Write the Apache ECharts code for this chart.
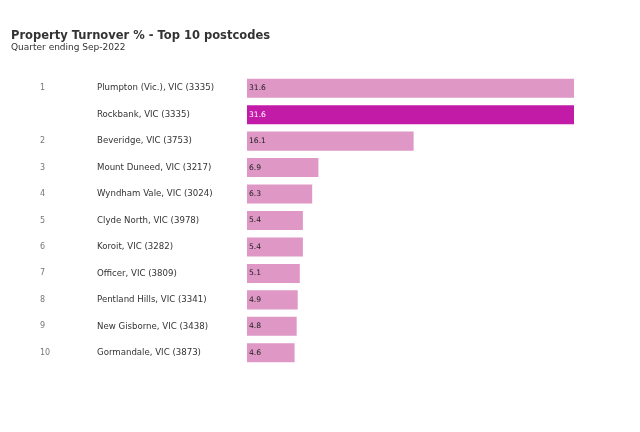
<!DOCTYPE html>
<html>
<head>
<meta charset="utf-8">
<script src="https://cdn.jsdelivr.net/npm/echarts@6/dist/echarts.min.js"></script>
<style>
  html, body { margin: 0; padding: 0; background: #fff; }
  #chart { width: 640px; height: 432px; }
</style>
</head>
<body>
<div id="chart"></div>
<script>
var ranks = ['1', '', '2', '3', '4', '5', '6', '7', '8', '9', '10'];
var suburbs = [
    'Plumpton (Vic.), VIC (3335)',
    'Rockbank, VIC (3335)',
    'Beveridge, VIC (3753)',
    'Mount Duneed, VIC (3217)',
    'Wyndham Vale, VIC (3024)',
    'Clyde North, VIC (3978)',
    'Koroit, VIC (3282)',
    'Officer, VIC (3809)',
    'Pentland Hills, VIC (3341)',
    'New Gisborne, VIC (3438)',
    'Gormandale, VIC (3873)'
];
var turnover = [31.6, 31.6, 16.1, 6.9, 6.3, 5.4, 5.4, 5.1, 4.9, 4.8, 4.6];
var highlighted = 'Rockbank, VIC (3335)';

var lightPink = '#df97c6';
var darkPink = '#c21ba8';

var chart = echarts.init(document.getElementById('chart'));

var barData = turnover.map(function (v, i) {
    var hl = suburbs[i] === highlighted;
    return {
        value: v,
        itemStyle: { color: hl ? darkPink : lightPink },
        label: { color: hl ? '#ffffff' : '#222222' }
    };
});

var option = {
    animation: false,
    textStyle: { fontFamily: 'DejaVu Sans' },
    title: {
        text: 'Property Turnover % - Top 10 postcodes',
        subtext: 'Quarter ending Sep-2022',
        left: 6,
        top: 25,
        itemGap: 1,
        textStyle: { fontSize: 11.5, fontWeight: 'bold', color: '#333333', fontFamily: 'DejaVu Sans' },
        subtextStyle: { fontSize: 9, color: '#333333', fontFamily: 'DejaVu Sans' }
    },
    grid: {
        left: 247,
        right: 66,
        top: 75,
        bottom: 66,
        containLabel: false
    },
    xAxis: {
        type: 'value',
        min: 0,
        max: 31.6,
        show: false
    },
    yAxis: {
        type: 'category',
        inverse: true,
        data: suburbs,
        axisLine: { show: false },
        axisTick: { show: false },
        axisLabel: {
            align: 'left',
            margin: 207,
            formatter: function (name, idx) {
                return '{r|' + ranks[idx] + '}{n|' + name + '}';
            },
            rich: {
                r: { width: 57, fontSize: 8, color: '#777777', fontFamily: 'DejaVu Sans' },
                n: { fontSize: 8.6, color: '#333333', fontFamily: 'DejaVu Sans' }
            }
        }
    },
    series: [{
        type: 'bar',
        data: barData,
        barCategoryGap: '28%',
        label: {
            show: true,
            position: 'insideLeft',
            distance: 2,
            fontSize: 7.6,
            fontFamily: 'DejaVu Sans'
        }
    }]
};

chart.setOption(option);
</script>
</body>
</html>
